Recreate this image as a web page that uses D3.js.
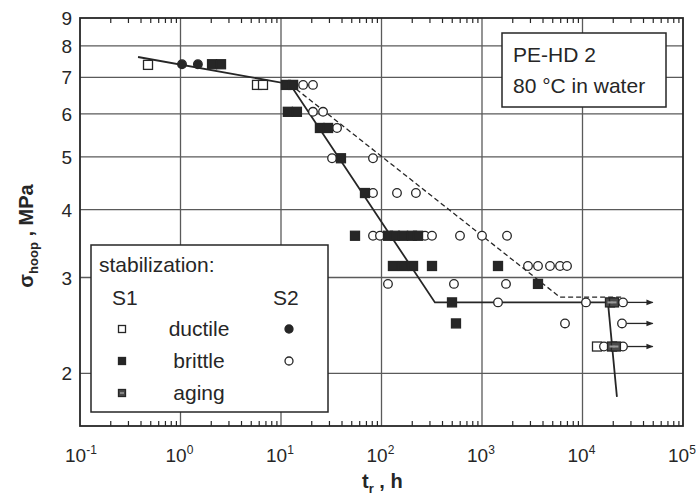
<!DOCTYPE html>
<html>
<head>
<meta charset="utf-8">
<script src="https://cdn.jsdelivr.net/npm/d3@7"></script>
<style>
	body { margin: 0; background: #fff; }
	svg { display: block; font-family: "Liberation Sans", Arial, sans-serif; }
</style>
</head>
<body>
<svg id="chart" width="698" height="495"></svg>
<script>
// tick labels
var xTickExps = [-1, 0, 1, 2, 3, 4, 5];
var yTickValues = [2, 3, 4, 5, 6, 7, 8, 9];

// [time to failure in h, hoop stress in MPa]
var s1Ductile = [[0.475, 7.38], [5.77, 6.78], [6.62, 6.78], [13940, 2.24]];
var s1Brittle = [
	[2.06, 7.40], [2.53, 7.40],
	[11.2, 6.78], [13.2, 6.78],
	[11.7, 6.05], [14.4, 6.05],
	[24.4, 5.65], [29.4, 5.65],
	[39.5, 4.97],
	[68.5, 4.29],
	[54.5, 3.58], [116, 3.58], [136, 3.58], [164, 3.58], [201, 3.58], [231, 3.58],
	[130, 3.15], [164, 3.15], [206, 3.15], [318, 3.15], [1443, 3.15],
	[3607, 2.92],
	[503, 2.70],
	[551, 2.47]
];
var s1Aging = [[18770, 2.70], [20580, 2.70], [19660, 2.24], [21500, 2.24]];
var s2Ductile = [[1.035, 7.40], [1.49, 7.40]];
var s2Brittle = [
	[16.6, 6.78], [20.8, 6.78],
	[20.8, 6.05], [26.2, 6.05],
	[36.1, 5.65],
	[32.2, 4.97], [82.3, 4.97],
	[82.3, 4.29], [142.6, 4.29], [220, 4.29],
	[82.3, 3.58], [96.6, 3.58], [271, 3.58], [318, 3.58], [604, 3.58], [1000, 3.58], [1774, 3.58],
	[2869, 3.15], [3607, 3.15], [4750, 3.15], [5973, 3.15], [7013, 3.15],
	[116, 2.92], [526, 2.92], [1733, 2.92],
	[1443, 2.70], [10830, 2.70], [25290, 2.70],
	[6696, 2.47], [24720, 2.47],
	[16360, 2.24], [25290, 2.24]
];

// fitted curves
var s1Fit = [[0.378, 7.63], [12.3, 6.80], [340, 2.70], [25300, 2.70]];
var s2Fit = [[12.3, 6.80], [5970, 2.76], [25300, 2.76]];
var agingFit = [[17950, 2.69], [22000, 1.81]];

// run-outs
var runoutLevels = [2.70, 2.47, 2.24];
var runoutFrom = 27700;
var runoutTo = 50000;

(function() {
	var ink = "#262626";
	var grid = "#5a5a5a";

	var svg = d3.select("#chart");
	var plot = {left: 80, right: 683, top: 18, bottom: 426};

	var x = d3.scaleLog().domain([0.1, 1e5]).range([plot.left, plot.right]);
	var y = d3.scaleLog().domain([1.6, 9]).range([plot.bottom, plot.top]);

	// Grid
	svg.append("g")
		.selectAll("line")
		.data(yTickValues.filter(function(d) { return d < 9; }))
		.join("line")
		.attr("x1", plot.left).attr("x2", plot.right)
		.attr("y1", function(d) { return y(d); })
		.attr("y2", function(d) { return y(d); })
		.attr("stroke", grid).attr("stroke-width", 1.3);

	svg.append("g")
		.selectAll("line")
		.data(xTickExps.slice(1, -1))
		.join("line")
		.attr("x1", function(d) { return x(Math.pow(10, d)); })
		.attr("x2", function(d) { return x(Math.pow(10, d)); })
		.attr("y1", plot.top).attr("y2", plot.bottom)
		.attr("stroke", grid).attr("stroke-width", 1.3);

	// minor ticks on top and bottom edges
	var minor = [];
	xTickExps.slice(0, -1).forEach(function(e) {
		for (var k = 2; k < 10; k++) minor.push(k * Math.pow(10, e));
	});
	var styleTicks = function(g) {
		g.select(".domain").remove();
		g.selectAll("line").attr("stroke", ink).attr("stroke-width", 1.2);
	};
	svg.append("g").attr("transform", "translate(0," + plot.bottom + ")")
		.call(d3.axisBottom(x).tickValues(minor).tickSize(-5).tickFormat(""))
		.call(styleTicks);
	svg.append("g").attr("transform", "translate(0," + plot.top + ")")
		.call(d3.axisTop(x).tickValues(minor).tickSize(-5).tickFormat(""))
		.call(styleTicks);

	svg.append("rect")
		.attr("x", plot.left).attr("y", plot.top)
		.attr("width", plot.right - plot.left).attr("height", plot.bottom - plot.top)
		.attr("fill", "none").attr("stroke", ink).attr("stroke-width", 1.8);

	// Tick labels
	svg.append("g")
		.selectAll("text")
		.data(yTickValues)
		.join("text")
		.attr("x", 72)
		.attr("y", function(d) { return y(d) + 7; })
		.attr("text-anchor", "end")
		.attr("font-size", 19)
		.attr("fill", ink)
		.text(function(d) { return d; });

	var xt = svg.append("g")
		.selectAll("text")
		.data(xTickExps)
		.join("text")
		.attr("x", function(d) { return x(Math.pow(10, d)) - 15; })
		.attr("y", 462)
		.attr("font-size", 19)
		.attr("fill", ink);
	xt.append("tspan").text("10");
	xt.append("tspan").attr("dy", -8).attr("font-size", 12)
		.text(function(d) { return d < 0 ? "-" + (-d) : d; });

	// Axis titles
	var yl = svg.append("text")
		.attr("transform", "translate(33,236) rotate(-90)")
		.attr("text-anchor", "middle")
		.attr("font-size", 20)
		.attr("font-weight", "bold")
		.attr("fill", ink);
	yl.append("tspan").text("σ");
	yl.append("tspan").attr("font-size", 13).attr("dy", 5).text("hoop");
	yl.append("tspan").attr("dy", -5).text(" , MPa");

	var xl = svg.append("text")
		.attr("x", 362).attr("y", 488)
		.attr("font-size", 20)
		.attr("font-weight", "bold")
		.attr("fill", ink);
	xl.append("tspan").text("t");
	xl.append("tspan").attr("font-size", 13).attr("dy", 5).text("r");
	xl.append("tspan").attr("dy", -5).text(" , h");

	// Fit lines
	var line = d3.line()
		.x(function(d) { return x(d[0]); })
		.y(function(d) { return y(d[1]); });

	svg.append("path").datum(s1Fit).attr("d", line)
		.attr("fill", "none").attr("stroke", ink).attr("stroke-width", 1.8);
	svg.append("path").datum(s2Fit).attr("d", line)
		.attr("fill", "none").attr("stroke", ink).attr("stroke-width", 1.3)
		.attr("stroke-dasharray", "5,3");
	svg.append("path").datum(agingFit).attr("d", line)
		.attr("fill", "none").attr("stroke", ink).attr("stroke-width", 1.8);

	// Run-out arrows
	svg.append("defs").append("marker")
		.attr("id", "arrow")
		.attr("viewBox", "0 0 10 10")
		.attr("refX", 9).attr("refY", 5)
		.attr("markerWidth", 9).attr("markerHeight", 7)
		.attr("markerUnits", "userSpaceOnUse")
		.attr("orient", "auto")
		.append("path").attr("d", "M0,1L10,5L0,9Z").attr("fill", ink);

	svg.append("g")
		.selectAll("line")
		.data(runoutLevels)
		.join("line")
		.attr("x1", x(runoutFrom)).attr("x2", x(runoutTo))
		.attr("y1", function(d) { return y(d); })
		.attr("y2", function(d) { return y(d); })
		.attr("stroke", ink).attr("stroke-width", 1.3)
		.attr("marker-end", "url(#arrow)");

	// Markers
	var sq = 9, r = 4.3;
	function squares(g, data, fill) {
		g.selectAll("rect")
			.data(data)
			.join("rect")
			.attr("x", function(d) { return x(d[0]) - sq / 2; })
			.attr("y", function(d) { return y(d[1]) - sq / 2; })
			.attr("width", sq).attr("height", sq)
			.attr("fill", fill).attr("stroke", ink).attr("stroke-width", 1.3);
	}
	function circles(g, data, fill) {
		g.selectAll("circle")
			.data(data)
			.join("circle")
			.attr("cx", function(d) { return x(d[0]); })
			.attr("cy", function(d) { return y(d[1]); })
			.attr("r", r)
			.attr("fill", fill).attr("stroke", ink).attr("stroke-width", 1.3);
	}
	function agingMarks(g, data) {
		squares(g, data, "#4a4a4a");
		g.selectAll("line")
			.data(data)
			.join("line")
			.attr("x1", function(d) { return x(d[0]) - 2.5; })
			.attr("x2", function(d) { return x(d[0]) + 2.5; })
			.attr("y1", function(d) { return y(d[1]); })
			.attr("y2", function(d) { return y(d[1]); })
			.attr("stroke", "#9a9a9a").attr("stroke-width", 2);
	}

	squares(svg.append("g"), s1Ductile, "#fff");
	circles(svg.append("g"), s2Brittle, "#fff");
	squares(svg.append("g"), s1Brittle, ink);
	agingMarks(svg.append("g"), s1Aging);
	circles(svg.append("g"), s2Ductile, ink);

	// Legend
	var lg = svg.append("g");
	lg.append("rect")
		.attr("x", 91).attr("y", 245).attr("width", 237).attr("height", 167)
		.attr("fill", "#fff").attr("stroke", ink).attr("stroke-width", 1.5);
	lg.append("text").attr("x", 99).attr("y", 272).attr("font-size", 21).attr("fill", ink).text("stabilization:");
	lg.append("text").attr("x", 112).attr("y", 305).attr("font-size", 21).attr("fill", ink).text("S1");
	lg.append("text").attr("x", 273).attr("y", 305).attr("font-size", 21).attr("fill", ink).text("S2");

	var legendRows = ["ductile", "brittle", "aging"];
	var rowY = d3.scalePoint().domain(legendRows).range([329, 393]);
	lg.selectAll(".lab")
		.data(legendRows)
		.join("text")
		.attr("class", "lab")
		.attr("x", 199)
		.attr("y", function(d) { return rowY(d) + 7; })
		.attr("text-anchor", "middle")
		.attr("font-size", 21)
		.attr("fill", ink)
		.text(function(d) { return d; });

	var lsq = 7;
	var legendSquare = function(row, fill) {
		lg.append("rect")
			.attr("x", 122 - lsq / 2).attr("y", rowY(row) - lsq / 2)
			.attr("width", lsq).attr("height", lsq)
			.attr("fill", fill).attr("stroke", ink).attr("stroke-width", 1.3);
	};
	legendSquare("ductile", "#fff");
	legendSquare("brittle", ink);
	legendSquare("aging", "#4a4a4a");
	lg.append("line").attr("x1", 120).attr("x2", 124).attr("y1", rowY("aging")).attr("y2", rowY("aging"))
		.attr("stroke", "#9a9a9a").attr("stroke-width", 1.5);
	lg.append("circle").attr("cx", 289).attr("cy", rowY("ductile")).attr("r", 4)
		.attr("fill", ink).attr("stroke", ink).attr("stroke-width", 1.3);
	lg.append("circle").attr("cx", 289).attr("cy", rowY("brittle")).attr("r", 4)
		.attr("fill", "#fff").attr("stroke", ink).attr("stroke-width", 1.3);

	// Material note
	var note = svg.append("g");
	note.append("rect")
		.attr("x", 502).attr("y", 33).attr("width", 164).attr("height", 74)
		.attr("fill", "#fff").attr("stroke", ink).attr("stroke-width", 1.5);
	note.append("text").attr("x", 513).attr("y", 62).attr("font-size", 21).attr("fill", ink).text("PE-HD 2");
	note.append("text").attr("x", 513).attr("y", 93).attr("font-size", 21).attr("fill", ink).text("80 °C in water");
})();
</script>
</body>
</html>
